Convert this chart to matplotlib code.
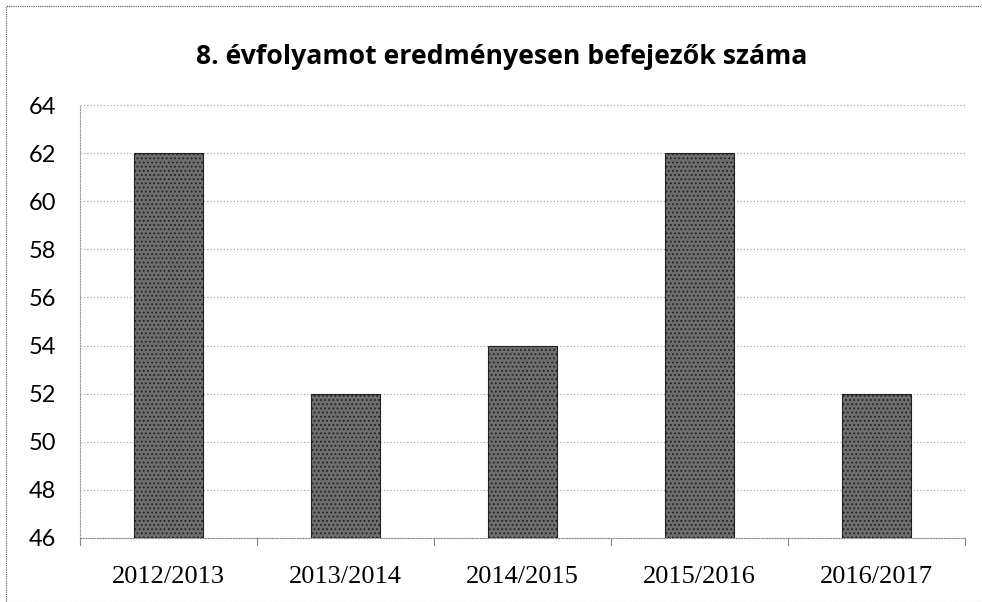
import matplotlib
matplotlib.use("Agg")
import matplotlib.pyplot as plt
from matplotlib.patches import Rectangle

categories = ["2012/2013", "2013/2014", "2014/2015", "2015/2016", "2016/2017"]
values = [62, 52, 54, 62, 52]
yticks = [46, 48, 50, 52, 54, 56, 58, 60, 62, 64]
title = "8. évfolyamot eredményesen befejezők száma"

plt.rcParams['hatch.color'] = '#d8d8d8'
plt.rcParams['hatch.linewidth'] = 0.8

fig = plt.figure(figsize=(9.82, 6.02), dpi=100)
ax = fig.add_axes([80/982, 1-538/602, (965-80)/982, (538-105)/602])

x = list(range(len(categories)))
ax.bar(x, [v - yticks[0] for v in values], bottom=yticks[0], width=0.385,
       color="#6e6e6e", edgecolor="#222222", linewidth=0.8, hatch="....", zorder=3)

ax.set_xlim(-0.5, len(categories) - 0.5)
ax.set_ylim(yticks[0], yticks[-1])
ax.set_yticks(yticks)
ax.set_yticklabels([str(t) for t in yticks], fontsize=17, family="Lato")
ax.set_xticks(x)
ax.set_xticklabels(categories, fontsize=19, family="Liberation Serif")
ax.tick_params(axis="y", length=0, pad=17)
ax.tick_params(axis="x", length=0, pad=20)
for b in [i - 0.5 for i in range(len(categories) + 1)]:
    ax.plot([b, b], [yticks[0], yticks[0] - 0.3], color="#888888", lw=0.8,
            clip_on=False, zorder=2)

ax.grid(axis="y", color="#999999", linestyle=(0, (1, 2)), linewidth=0.8, zorder=0)
for s in ["top", "right"]:
    ax.spines[s].set_visible(False)
ax.spines["left"].set_color("#999999")
ax.spines["left"].set_linestyle((0, (1, 1.5)))
ax.spines["bottom"].set_color("#888888")
ax.spines["bottom"].set_linestyle((0, (1, 1.5)))

fig.text(0.5 + 11/982, 1 - 57/602, title, ha="center", va="center", fontsize=19.2,
         fontweight="bold", family="Open Sans")

fig.patches.append(Rectangle((6/982, 0), 1.2, 1 - 6/602 - 0,
                             transform=fig.transFigure, fill=False,
                             edgecolor="#555555", lw=0.8, linestyle=(0, (1, 1))))

fig.savefig("out.png", dpi=100, facecolor="white")
